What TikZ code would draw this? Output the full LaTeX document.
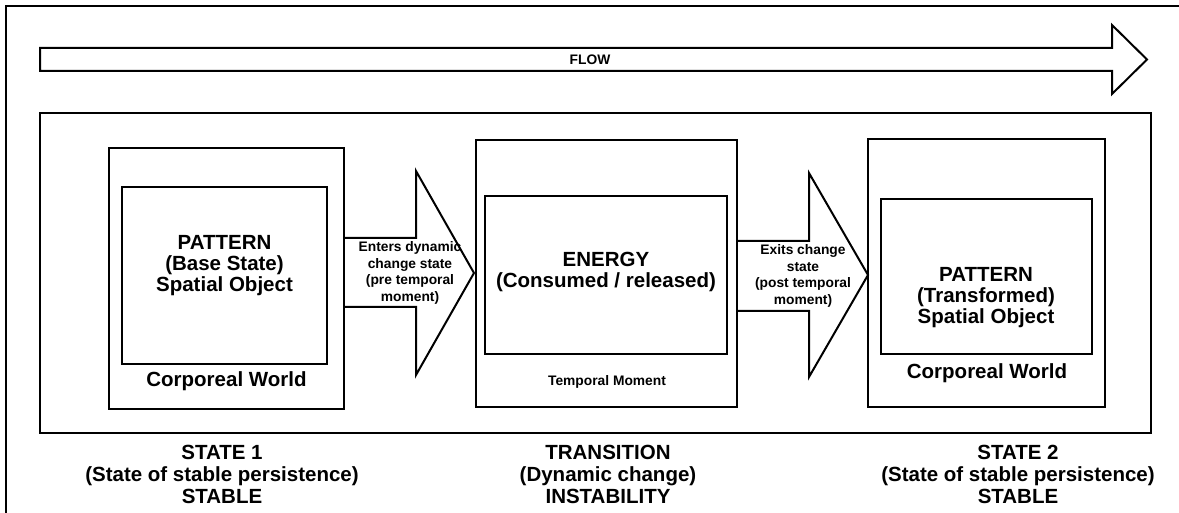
\documentclass[tikz,border=0pt]{standalone}
\usepackage{fontspec}
\setmainfont{Liberation Sans}
\begin{document}
\begin{tikzpicture}[x=0.5pt,y=-0.5pt,
  line width=1pt, line join=miter,
  big/.style={font=\bfseries\fontsize{10.25}{10.5}\selectfont, align=center, inner sep=0pt},
  caption/.style={font=\bfseries\fontsize{10.25}{11}\selectfont, align=center, inner sep=0pt},
  small/.style={font=\bfseries\fontsize{6.9}{8.35}\selectfont, align=center, inner sep=0pt}]
\useasboundingbox (0,0) rectangle (1179,513);

% outer frame (runs off the page to the right and bottom)
\draw (1179,6) -- (6,6) -- (6,513);

% flow arrow
\draw (40,48) -- (1112,48) -- (1112,25) -- (1147,59.5) -- (1112,94) -- (1112,71) -- (40,71) -- cycle;
\node[small] (flow) at (590,60) {FLOW};

% enclosing frame
\draw (40,113) rectangle (1151,433);

% state 1
\draw (109,148) rectangle (344,409);
\draw (122,187) rectangle (327,364);
\node[big] (pat1) at (224.5,266) {PATTERN\\(Base State)\\Spatial Object};
\node[big] (world1) at (226.5,381) {Corporeal World};

% entry arrow
\draw (344,238) -- (416,238) -- (416,171) -- (474,273) -- (416,375) -- (416,307) -- (344,307);
\node[small] (enter) at (410,273) {Enters dynamic\\change state\\(pre temporal\\moment)};

% transition
\draw (476,140) rectangle (737,407);
\draw (485,196) rectangle (727,354);
\node[big] (energy) at (606,271.5) {ENERGY\\(Consumed / released)};
\node[small] (temporal) at (607,382) {Temporal Moment};

% exit arrow
\draw (737,241) -- (809,241) -- (809,173) -- (868,275) -- (809,377) -- (809,311) -- (737,311);
\node[small] (exit) at (803,276) {Exits change\\state\\(post temporal\\moment)};

% state 2
\draw (868,139) rectangle (1105,407);
\draw (881,199) rectangle (1092,354);
\node[big] (pat2) at (986,298) {PATTERN\\(Transformed)\\Spatial Object};
\node[big] (world2) at (987,373) {Corporeal World};

% captions below the frame
\node[caption] (cap1) at (222,474) {STATE 1\\(State of stable persistence)\\STABLE};
\node[caption] (cap2) at (608,474) {TRANSITION\\(Dynamic change)\\INSTABILITY};
\node[caption] (cap3) at (1018,474) {STATE 2\\(State of stable persistence)\\STABLE};
\end{tikzpicture}
\end{document}
